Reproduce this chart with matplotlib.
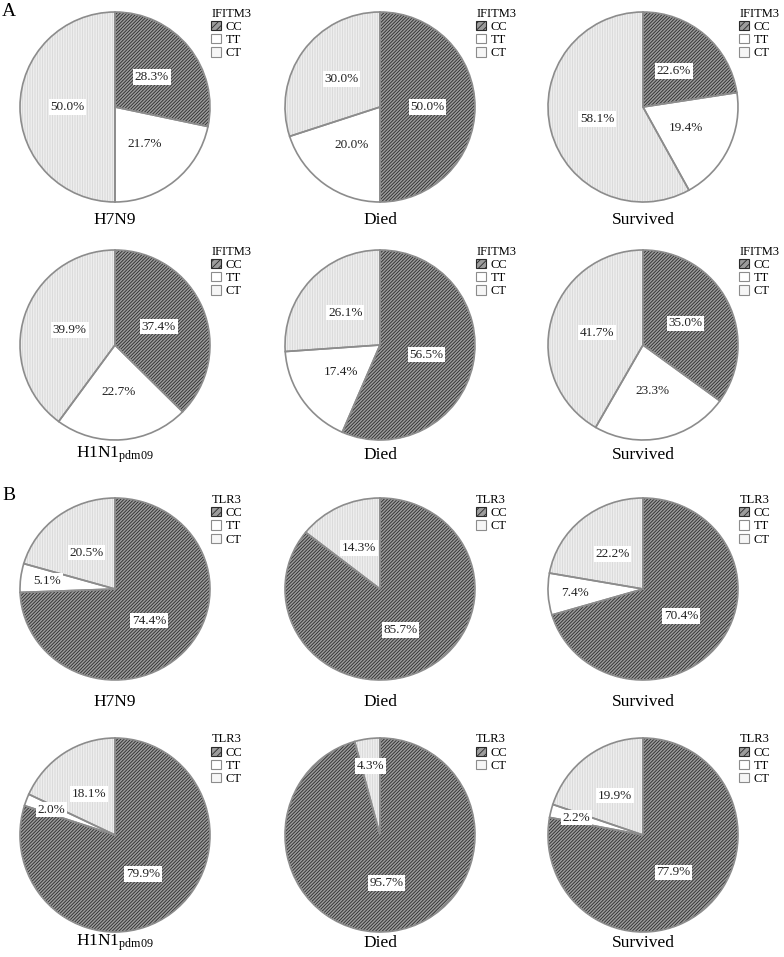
import matplotlib
matplotlib.use("Agg")
import matplotlib.pyplot as plt
from matplotlib.patches import Patch
import numpy as np

plt.rcParams['font.family'] = ['Liberation Serif', 'DejaVu Serif']
plt.rcParams['mathtext.fontset'] = 'custom'
plt.rcParams['mathtext.rm'] = 'Liberation Serif'
plt.rcParams['mathtext.it'] = 'Liberation Serif:italic'
plt.rcParams['hatch.linewidth'] = 0.6

genotypes = ["CC", "TT", "CT"]
groups = ["H7N9", "Died", "Survived", "H1N1$_{\\mathrm{pdm09}}$", "Died", "Survived"]

ifitm3 = [
    [28.3, 21.7, 50.0],
    [50.0, 20.0, 30.0],
    [22.6, 19.4, 58.1],
    [37.4, 22.7, 39.9],
    [56.5, 17.4, 26.1],
    [35.0, 23.3, 41.7],
]
tlr3 = [
    [74.4, 5.1, 20.5],
    [85.7, 0.0, 14.3],
    [70.4, 7.4, 22.2],
    [79.9, 2.0, 18.1],
    [95.7, 0.0, 4.3],
    [77.9, 2.2, 19.9],
]

# styles per genotype
face = {"CC": "#9c9c9c", "TT": "#ffffff", "CT": "#f6f6f6"}
hatch = {"CC": "//////////", "TT": None, "CT": "||||||||||"}
hcol = {"CC": "#2a2a2a", "TT": "#ffffff", "CT": "#d6d6d6"}
edge = "#8c8c8c"

W, H = 784, 957
fig = plt.figure(figsize=(W / 100, H / 100), dpi=100)

col_x = [115, 380, 643]
row_y = [107, 345, 589, 835]
row_ry = [95, 95, 91, 97]
rx = 95
label_y = [220, 455, 702, 943]


def draw_pie(vals, gene, cx, cy, ry, title, ly):
    ax = fig.add_axes([(cx - rx) / W, (H - cy - ry) / H, 2 * rx / W, 2 * ry / H])
    keep = [i for i, v in enumerate(vals) if v > 0]
    v = [vals[i] for i in keep]
    g = [genotypes[i] for i in keep]
    wedges, _ = ax.pie(v, startangle=90, counterclock=False,
                       colors=[face[k] for k in g],
                       wedgeprops=dict(linewidth=0, clip_on=False))
    for w, k in zip(wedges, g):
        w.set_edgecolor(hcol[k])
        if hatch[k]:
            w.set_hatch(hatch[k])
    ax.pie(v, startangle=90, counterclock=False, colors=["none"] * len(v),
           wedgeprops=dict(linewidth=1.2, edgecolor=edge, clip_on=False))
    for w, val in zip(wedges, v):
        ang = np.deg2rad((w.theta1 + w.theta2) / 2)
        d = 0.72 if val < 10 else 0.5
        ax.text(d * np.cos(ang), d * np.sin(ang), "%.1f%%" % val, ha="center", va="center",
                fontsize=9.5, color="#222222",
                bbox=dict(facecolor="white", edgecolor="none", pad=1.2))
    ax.set_xlim(-1, 1)
    ax.set_ylim(-1, 1)
    ax.set_aspect("auto")
    handles = [Patch(facecolor=face[k], edgecolor=hcol[k] if k == "CC" else edge,
                     hatch="/////" if k == "CC" else None, linewidth=0.8) for k in g]
    ax.legend(handles, g, title=gene, loc="upper left", bbox_to_anchor=(1.0, 1.03),
              frameon=False, fontsize=9, title_fontsize=9, handlelength=0.75,
              handleheight=0.75, handletextpad=0.4, labelspacing=0.1,
              borderpad=0, borderaxespad=0.1, alignment="left")
    fig.text(cx / W, 1 - ly / H, title, ha="center", va="center", fontsize=12.5)


for r in range(4):
    gene = "IFITM3" if r < 2 else "TLR3"
    data = ifitm3 if r < 2 else tlr3
    for c in range(3):
        idx = (r % 2) * 3 + c
        draw_pie(data[idx], gene, col_x[c], row_y[r], row_ry[r], groups[idx], label_y[r])

fig.text(2 / W, 1 - 12 / H, "A", fontsize=14, va="center", ha="left")
fig.text(2 / W, 1 - 495 / H, "B", fontsize=14, va="center", ha="left")

fig.savefig("out.png", dpi=100)
